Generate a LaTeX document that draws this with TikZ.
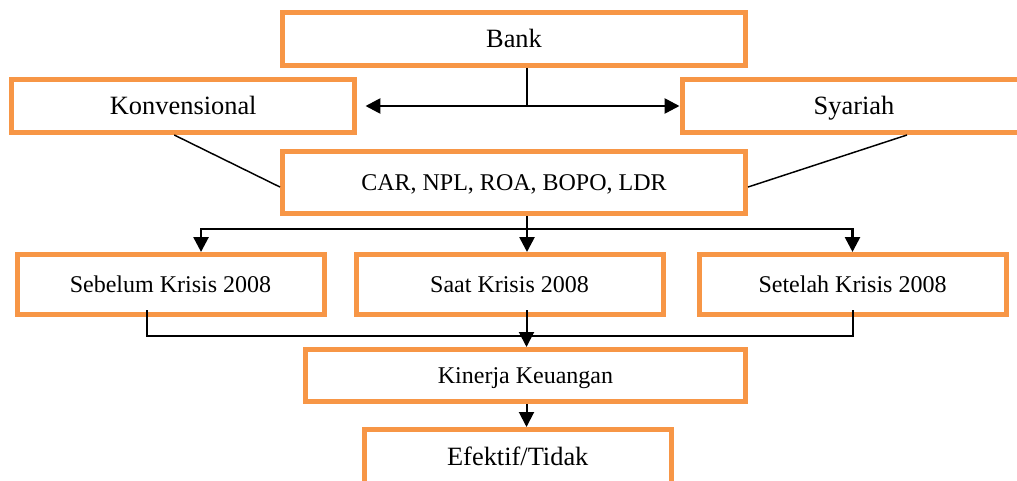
\documentclass[tikz,border=0pt]{standalone}
\usepackage{fontspec}
\setmainfont{Liberation Serif}
\usepackage{xcolor}
\usepackage{tikz}
\usetikzlibrary{arrows.meta,positioning}
\definecolor{boxorange}{RGB}{247,150,70}

\begin{document}
\begin{tikzpicture}[
    x=0.75pt, y=-0.75pt,
    box/.style={rectangle, draw=boxorange, line width=3.75pt, align=center},
    bigbox/.style={box, font=\fontsize{19.8}{24}\selectfont, text height=15.8pt, text depth=2.8pt, minimum height=39.75pt},
    smallbox/.style={box, font=\fontsize{18}{22}\selectfont, text height=14.4pt, text depth=2.5pt},
    crisis/.style={smallbox, minimum width=230.25pt, minimum height=45pt},
    link/.style={line width=1.1pt},
    trunk/.style={line width=2pt},
    arrow/.style={-{Triangle[length=11.25pt,width=11.25pt]}, line width=2pt},
    branch/.style={line width=1.5pt},
    thinarrow/.style={-{Triangle[length=11.25pt,width=11.25pt]}, line width=1.5pt}
]
\useasboundingbox (0,0) rectangle (1017,481);

% Bank types (Top)
\node[bigbox, minimum width=347.25pt] (bank) at (514,39) {Bank};
\node[bigbox, minimum width=257.6pt] (konv) at (183.25,106) {Konvensional};
\node[bigbox, minimum width=258pt] (syar) at (854,106) {Syariah};

% Ratios
\node[smallbox, minimum width=347.25pt, minimum height=46.5pt] (ratio) at (514,182.5) {CAR, NPL, ROA, BOPO, LDR};

% Crisis periods
\node[crisis] (saat) at (509.5,284.5) {Saat Krisis 2008};
\node[crisis, left=20.25pt of saat] (sebelum) {Sebelum Krisis 2008};
\node[crisis, right=23.25pt of saat] (setelah) {Setelah Krisis 2008};

% Result
\node[smallbox, minimum width=330pt, minimum height=39pt] (kinerja) at (525.5,375.5) {Kinerja Keuangan};
\node[bigbox, minimum width=230.6pt, minimum height=41.25pt] (efektif) at (517.75,457) {Efektif/Tidak};

% Arrows - Bank split
\coordinate (split) at (527,106);
\draw[trunk] (bank.south -| split) -- (split);
\draw[arrow] (split) -- ([xshift=6pt]konv.east);
\draw[arrow] (split) -- (syar.west);

% Links to ratios
\draw[link] ([xshift=-6.75pt]konv.south) -- ([yshift=-3.4pt]ratio.west);
\draw[link] ([xshift=39.75pt]syar.south) -- ([yshift=-3.4pt]ratio.east);

% Arrows - Ratio fork
\coordinate (fork) at (527,229);
\draw[trunk] (ratio.south -| fork) -- (fork);
\draw[arrow] (fork) -| ([xshift=22.9pt]sebelum.north);
\draw[arrow] (fork) -- (fork |- saat.north);
\draw[arrow] (fork) -| (setelah.north);

% Arrows - Merge
\coordinate (merge) at (526.5,336);
\draw[branch] ([xshift=-17.6pt,yshift=5pt]sebelum.south) |- (merge) -| ([yshift=5pt]setelah.south);
\draw[branch] ([yshift=5pt]saat.south -| merge) -- (merge);
\draw[thinarrow] (merge) -- (kinerja.north -| merge);
\draw[thinarrow] (kinerja.south -| merge) -- (efektif.north -| merge);

\end{tikzpicture}
\end{document}
